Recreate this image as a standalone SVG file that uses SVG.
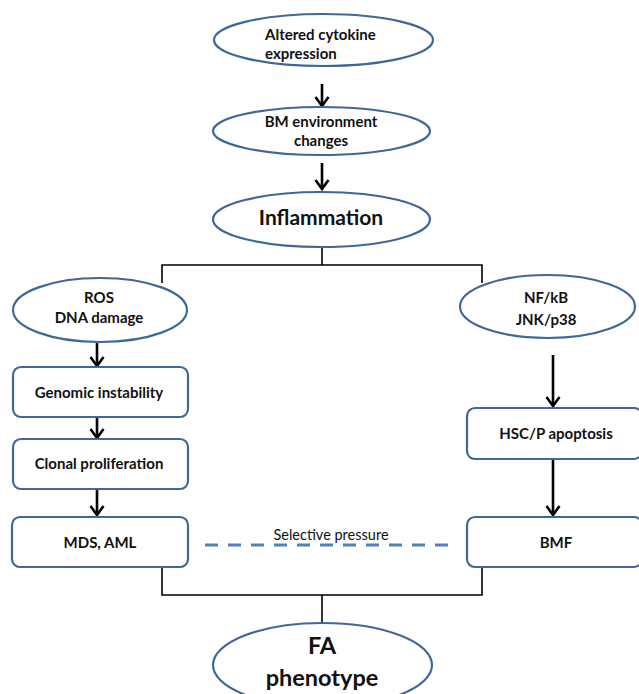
<svg xmlns="http://www.w3.org/2000/svg" width="639" height="694" viewBox="0 0 639 694">
  <style>
    .node { fill: #ffffff; stroke: #3f6797; stroke-width: 2.2; }
    .lbl { font-family: "Lato", "Liberation Sans", sans-serif; font-weight: bold; font-size: 15px; fill: #111111; text-anchor: middle; }
    .start { text-anchor: start; }
    .big { font-size: 21px; }
    .huge { font-size: 23.5px; }
    .plain { font-weight: normal; font-size: 14.5px; }
    .link { stroke: #000000; stroke-width: 1.6; fill: none; }
    .arrow { stroke: #000000; stroke-width: 2.6; fill: none; marker-end: url(#chev); }
    .dash { stroke: #4f81bd; stroke-width: 3; stroke-dasharray: 13 10; fill: none; }
  </style>
  <defs>
    <!-- open chevron arrowhead, drawn pointing along +x -->
    <marker id="chev" markerUnits="userSpaceOnUse" markerWidth="16" markerHeight="16" refX="12" refY="8" orient="auto" viewBox="0 0 16 16">
      <polyline points="3,1.5 12,8 3,14.5" fill="none" stroke="#000000" stroke-width="2.6"/>
    </marker>
  </defs>
  <rect width="639" height="694" fill="#ffffff"/>

  <!-- connectors -->
  <g id="connectors">
    <line class="arrow" x1="322" y1="84" x2="322" y2="106"/>
    <line class="arrow" x1="322" y1="163" x2="322" y2="189"/>
    <polyline class="link" points="322,247 322,265"/>
    <polyline class="link" points="162,283 162,265 482,265 482,283"/>
    <line class="arrow" x1="97" y1="343" x2="97" y2="366"/>
    <line class="arrow" x1="97" y1="417" x2="97" y2="438"/>
    <line class="arrow" x1="97" y1="489" x2="97" y2="515"/>
    <line class="arrow" x1="553" y1="355" x2="553" y2="406"/>
    <line class="arrow" x1="553" y1="459" x2="553" y2="515"/>
    <line class="dash" x1="205" y1="545" x2="452" y2="545"/>
    <polyline class="link" points="162,567 162,595 482,595 482,567"/>
    <polyline class="link" points="322,595 322,623"/>
  </g>
  <text class="lbl plain" x="331" y="540">Selective pressure</text>

  <g id="cytokine">
    <ellipse class="node" cx="323.5" cy="40" rx="109.5" ry="26"/>
    <text class="lbl start" x="265" y="40">Altered cytokine</text>
    <text class="lbl start" x="265" y="59">expression</text>
  </g>

  <g id="bm-environment">
    <ellipse class="node" cx="321.5" cy="131" rx="108.5" ry="24"/>
    <text class="lbl" x="321" y="127">BM environment</text>
    <text class="lbl" x="321" y="146">changes</text>
  </g>

  <g id="inflammation">
    <ellipse class="node" cx="321.5" cy="219.5" rx="108.5" ry="27.5"/>
    <text class="lbl big" x="321" y="225">Inflammation</text>
  </g>

  <g id="ros">
    <ellipse class="node" cx="100" cy="310" rx="87" ry="32"/>
    <text class="lbl" x="99" y="303">ROS</text>
    <text class="lbl" x="99" y="323">DNA damage</text>
  </g>

  <g id="nfkb">
    <ellipse class="node" cx="547.5" cy="306.5" rx="87.5" ry="31.5"/>
    <text class="lbl" x="546" y="303">NF/kB</text>
    <text class="lbl" x="546" y="325">JNK/p38</text>
  </g>

  <g id="genomic">
    <rect class="node" x="13" y="367" width="175" height="50" rx="8"/>
    <text class="lbl" x="99" y="398">Genomic instability</text>
  </g>

  <g id="clonal">
    <rect class="node" x="13" y="439" width="175" height="50" rx="8"/>
    <text class="lbl" x="99" y="469">Clonal proliferation</text>
  </g>

  <g id="mds">
    <rect class="node" x="12" y="517" width="176" height="50" rx="8"/>
    <text class="lbl" x="100" y="548">MDS, AML</text>
  </g>

  <g id="apoptosis">
    <rect class="node" x="467" y="408" width="175" height="51" rx="8"/>
    <text class="lbl" x="556" y="439">HSC/P apoptosis</text>
  </g>

  <g id="bmf">
    <rect class="node" x="467" y="517" width="175" height="50" rx="8"/>
    <text class="lbl" x="556" y="548">BMF</text>
  </g>

  <g id="fa-phenotype">
    <ellipse class="node" cx="322.5" cy="665" rx="109.5" ry="42"/>
    <text class="lbl huge" x="322" y="654">FA</text>
    <text class="lbl huge" x="322" y="686">phenotype</text>
  </g>
</svg>
